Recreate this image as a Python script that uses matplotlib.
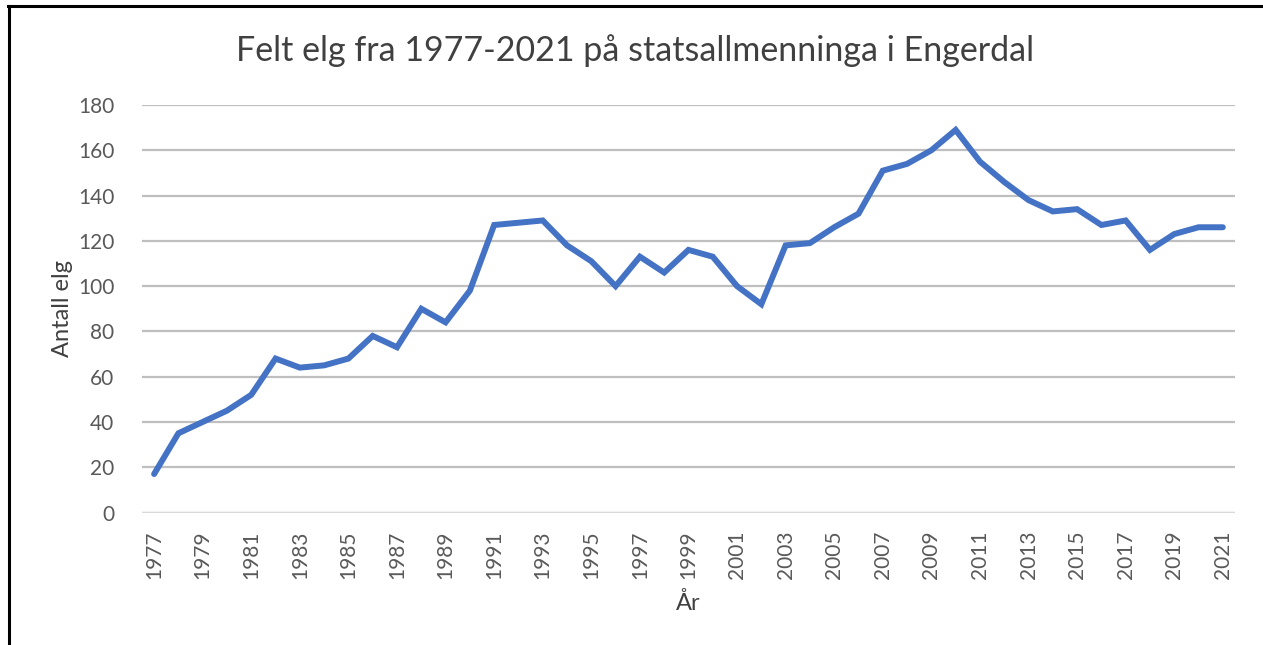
import matplotlib.pyplot as plt
from matplotlib.lines import Line2D

BLUE = "#4472C4"
GRID = "#BFBFBF"
TEXT = "#595959"

years = list(range(1977, 2022))
felt = [17, 35, 40, 45, 52, 68, 64, 65, 68, 78, 73, 90, 84, 98, 127,
        128, 129, 118, 111, 100, 113, 106, 116, 113, 100, 92, 118, 119,
        126, 132, 151, 154, 160, 169, 155, 146, 138, 133, 134, 127, 129,
        116, 123, 126, 126]
yticks = list(range(0, 181, 20))
xticks = years[::2]

plt.rcParams["font.family"] = ["Lato", "DejaVu Sans"]

fig = plt.figure(figsize=(12.63, 6.45), dpi=100, facecolor="white")
ax = fig.add_axes([0.1124, 0.2054, 0.8654, 0.6318])

ax.plot(years, felt, color=BLUE, linewidth=4.3, solid_joinstyle="miter",
        solid_capstyle="round", zorder=3)

ax.set_xlim(1976.5, 2021.5)
ax.set_ylim(0, 180)
ax.set_yticks(yticks)
ax.set_xticks(xticks)
ax.set_xticklabels([str(y) for y in xticks], rotation=90)
ax.tick_params(axis="both", length=0, labelsize=15, labelcolor=TEXT)
ax.tick_params(axis="y", pad=20)
ax.tick_params(axis="x", pad=13)

ax.grid(axis="y", color=GRID, linewidth=1.6, zorder=0)
ax.set_axisbelow(True)
for name, spine in ax.spines.items():
    spine.set_visible(False)
ax.axhline(0, color="#D9D9D9", linewidth=1.6, zorder=1)

ax.set_ylabel("Antall elg", fontsize=17, color="#404040", va="center")
ax.set_xlabel("År", fontsize=17, color="#404040", va="center")
ax.yaxis.set_label_coords(-0.073, 0.5)
ax.xaxis.set_label_coords(0.5, -0.222)

fig.text(0.503, 0.922, "Felt elg fra 1977-2021 på statsallmenninga i Engerdal",
         ha="center", va="center", fontsize=24.5, color="#404040")

# frame of the original screenshot (top and left edge only)
fig.add_artist(Line2D([8 / 1263, 1], [1 - 6 / 645, 1 - 6 / 645],
                      color="black", linewidth=2.2))
fig.add_artist(Line2D([9 / 1263, 9 / 1263], [0, 1 - 6 / 645],
                      color="black", linewidth=2.2))

fig.savefig("out.png", dpi=100, facecolor="white")
